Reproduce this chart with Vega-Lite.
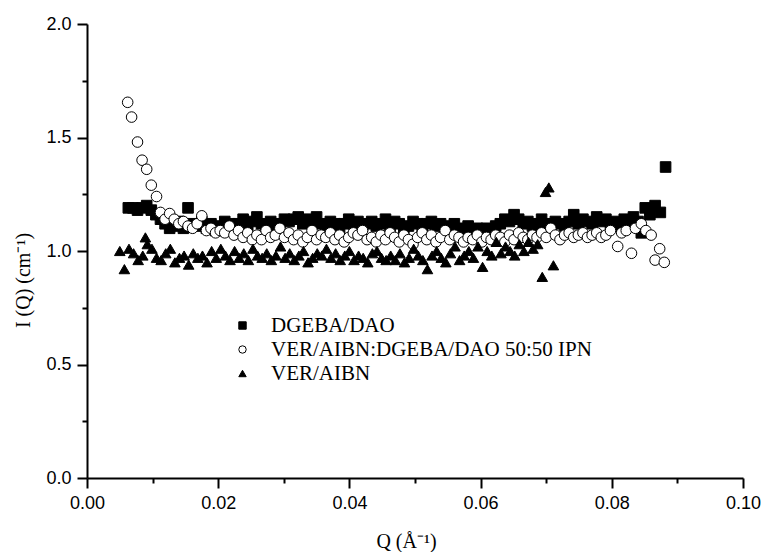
{
  "$schema": "https://vega.github.io/schema/vega-lite/v6.json",
  "width": 656,
  "height": 454,
  "autosize": "none",
  "padding": {"left": 87, "top": 24, "right": 21, "bottom": 74},
  "background": "white",
  "config": {
    "font": "Liberation Serif",
    "view": {"stroke": null},
    "axis": {
      "domainColor": "black", "domainWidth": 2, "tickColor": "black", "tickWidth": 2,
      "labelColor": "black", "labelFont": "Liberation Sans", "labelFontSize": 18,
      "titleFont": "Liberation Serif", "titleFontSize": 20, "titleFontWeight": "normal", "titleColor": "black",
      "grid": false
    },
    "legend": {
      "labelFont": "Liberation Serif", "labelFontSize": 21, "labelColor": "black", "labelLimit": 0,
      "symbolSize": 55, "symbolStrokeWidth": 1,
      "rowPadding": 2, "labelOffset": 18, "padding": 0
    },
    "style": {"guide-label": {"font": "Liberation Serif"}}
  },
  "data": {
    "values": [
      {"Q":0.0063,"I":1.19,"series":"DGEBA/DAO"},{"Q":0.0070,"I":1.19,"series":"DGEBA/DAO"},{"Q":0.0077,"I":1.18,"series":"DGEBA/DAO"},{"Q":0.0084,"I":1.19,"series":"DGEBA/DAO"},{"Q":0.0091,"I":1.20,"series":"DGEBA/DAO"},{"Q":0.0098,"I":1.18,"series":"DGEBA/DAO"},{"Q":0.0105,"I":1.16,"series":"DGEBA/DAO"},{"Q":0.0112,"I":1.14,"series":"DGEBA/DAO"},{"Q":0.0119,"I":1.12,"series":"DGEBA/DAO"},{"Q":0.0126,"I":1.10,"series":"DGEBA/DAO"},{"Q":0.0133,"I":1.11,"series":"DGEBA/DAO"},{"Q":0.0140,"I":1.13,"series":"DGEBA/DAO"},{"Q":0.0147,"I":1.10,"series":"DGEBA/DAO"},{"Q":0.0154,"I":1.19,"series":"DGEBA/DAO"},{"Q":0.0161,"I":1.12,"series":"DGEBA/DAO"},{"Q":0.0168,"I":1.11,"series":"DGEBA/DAO"},{"Q":0.0175,"I":1.13,"series":"DGEBA/DAO"},{"Q":0.0182,"I":1.10,"series":"DGEBA/DAO"},{"Q":0.0189,"I":1.12,"series":"DGEBA/DAO"},{"Q":0.0196,"I":1.09,"series":"DGEBA/DAO"},{"Q":0.0203,"I":1.11,"series":"DGEBA/DAO"},{"Q":0.0210,"I":1.13,"series":"DGEBA/DAO"},{"Q":0.0217,"I":1.12,"series":"DGEBA/DAO"},{"Q":0.0224,"I":1.10,"series":"DGEBA/DAO"},{"Q":0.0231,"I":1.12,"series":"DGEBA/DAO"},{"Q":0.0238,"I":1.14,"series":"DGEBA/DAO"},{"Q":0.0245,"I":1.11,"series":"DGEBA/DAO"},{"Q":0.0252,"I":1.13,"series":"DGEBA/DAO"},{"Q":0.0259,"I":1.15,"series":"DGEBA/DAO"},{"Q":0.0266,"I":1.12,"series":"DGEBA/DAO"},{"Q":0.0273,"I":1.10,"series":"DGEBA/DAO"},{"Q":0.0280,"I":1.13,"series":"DGEBA/DAO"},{"Q":0.0287,"I":1.11,"series":"DGEBA/DAO"},{"Q":0.0294,"I":1.12,"series":"DGEBA/DAO"},{"Q":0.0301,"I":1.14,"series":"DGEBA/DAO"},{"Q":0.0308,"I":1.13,"series":"DGEBA/DAO"},{"Q":0.0315,"I":1.14,"series":"DGEBA/DAO"},{"Q":0.0322,"I":1.15,"series":"DGEBA/DAO"},{"Q":0.0329,"I":1.12,"series":"DGEBA/DAO"},{"Q":0.0336,"I":1.14,"series":"DGEBA/DAO"},{"Q":0.0343,"I":1.13,"series":"DGEBA/DAO"},{"Q":0.0350,"I":1.15,"series":"DGEBA/DAO"},{"Q":0.0357,"I":1.12,"series":"DGEBA/DAO"},{"Q":0.0364,"I":1.11,"series":"DGEBA/DAO"},{"Q":0.0371,"I":1.13,"series":"DGEBA/DAO"},{"Q":0.0378,"I":1.12,"series":"DGEBA/DAO"},{"Q":0.0385,"I":1.10,"series":"DGEBA/DAO"},{"Q":0.0392,"I":1.12,"series":"DGEBA/DAO"},{"Q":0.0399,"I":1.14,"series":"DGEBA/DAO"},{"Q":0.0406,"I":1.12,"series":"DGEBA/DAO"},{"Q":0.0413,"I":1.13,"series":"DGEBA/DAO"},{"Q":0.0420,"I":1.11,"series":"DGEBA/DAO"},{"Q":0.0427,"I":1.12,"series":"DGEBA/DAO"},{"Q":0.0434,"I":1.13,"series":"DGEBA/DAO"},{"Q":0.0441,"I":1.11,"series":"DGEBA/DAO"},{"Q":0.0448,"I":1.12,"series":"DGEBA/DAO"},{"Q":0.0455,"I":1.14,"series":"DGEBA/DAO"},{"Q":0.0462,"I":1.11,"series":"DGEBA/DAO"},{"Q":0.0469,"I":1.13,"series":"DGEBA/DAO"},{"Q":0.0476,"I":1.12,"series":"DGEBA/DAO"},{"Q":0.0483,"I":1.10,"series":"DGEBA/DAO"},{"Q":0.0490,"I":1.11,"series":"DGEBA/DAO"},{"Q":0.0497,"I":1.13,"series":"DGEBA/DAO"},{"Q":0.0504,"I":1.12,"series":"DGEBA/DAO"},{"Q":0.0511,"I":1.10,"series":"DGEBA/DAO"},{"Q":0.0518,"I":1.12,"series":"DGEBA/DAO"},{"Q":0.0525,"I":1.13,"series":"DGEBA/DAO"},{"Q":0.0532,"I":1.11,"series":"DGEBA/DAO"},{"Q":0.0539,"I":1.12,"series":"DGEBA/DAO"},{"Q":0.0546,"I":1.10,"series":"DGEBA/DAO"},{"Q":0.0553,"I":1.11,"series":"DGEBA/DAO"},{"Q":0.0560,"I":1.12,"series":"DGEBA/DAO"},{"Q":0.0567,"I":1.10,"series":"DGEBA/DAO"},{"Q":0.0574,"I":1.09,"series":"DGEBA/DAO"},{"Q":0.0581,"I":1.11,"series":"DGEBA/DAO"},{"Q":0.0588,"I":1.08,"series":"DGEBA/DAO"},{"Q":0.0595,"I":1.10,"series":"DGEBA/DAO"},{"Q":0.0602,"I":1.08,"series":"DGEBA/DAO"},{"Q":0.0609,"I":1.10,"series":"DGEBA/DAO"},{"Q":0.0616,"I":1.09,"series":"DGEBA/DAO"},{"Q":0.0623,"I":1.11,"series":"DGEBA/DAO"},{"Q":0.0630,"I":1.12,"series":"DGEBA/DAO"},{"Q":0.0637,"I":1.14,"series":"DGEBA/DAO"},{"Q":0.0644,"I":1.13,"series":"DGEBA/DAO"},{"Q":0.0651,"I":1.16,"series":"DGEBA/DAO"},{"Q":0.0658,"I":1.14,"series":"DGEBA/DAO"},{"Q":0.0665,"I":1.12,"series":"DGEBA/DAO"},{"Q":0.0672,"I":1.13,"series":"DGEBA/DAO"},{"Q":0.0679,"I":1.11,"series":"DGEBA/DAO"},{"Q":0.0686,"I":1.12,"series":"DGEBA/DAO"},{"Q":0.0693,"I":1.14,"series":"DGEBA/DAO"},{"Q":0.0700,"I":1.12,"series":"DGEBA/DAO"},{"Q":0.0707,"I":1.10,"series":"DGEBA/DAO"},{"Q":0.0714,"I":1.13,"series":"DGEBA/DAO"},{"Q":0.0721,"I":1.12,"series":"DGEBA/DAO"},{"Q":0.0728,"I":1.11,"series":"DGEBA/DAO"},{"Q":0.0735,"I":1.13,"series":"DGEBA/DAO"},{"Q":0.0742,"I":1.16,"series":"DGEBA/DAO"},{"Q":0.0749,"I":1.12,"series":"DGEBA/DAO"},{"Q":0.0756,"I":1.14,"series":"DGEBA/DAO"},{"Q":0.0763,"I":1.13,"series":"DGEBA/DAO"},{"Q":0.0770,"I":1.12,"series":"DGEBA/DAO"},{"Q":0.0777,"I":1.15,"series":"DGEBA/DAO"},{"Q":0.0784,"I":1.13,"series":"DGEBA/DAO"},{"Q":0.0791,"I":1.14,"series":"DGEBA/DAO"},{"Q":0.0798,"I":1.12,"series":"DGEBA/DAO"},{"Q":0.0805,"I":1.13,"series":"DGEBA/DAO"},{"Q":0.0812,"I":1.11,"series":"DGEBA/DAO"},{"Q":0.0819,"I":1.14,"series":"DGEBA/DAO"},{"Q":0.0826,"I":1.12,"series":"DGEBA/DAO"},{"Q":0.0833,"I":1.15,"series":"DGEBA/DAO"},{"Q":0.0840,"I":1.13,"series":"DGEBA/DAO"},{"Q":0.0845,"I":1.08,"series":"DGEBA/DAO"},{"Q":0.0851,"I":1.19,"series":"DGEBA/DAO"},{"Q":0.0858,"I":1.16,"series":"DGEBA/DAO"},{"Q":0.0866,"I":1.20,"series":"DGEBA/DAO"},{"Q":0.0874,"I":1.17,"series":"DGEBA/DAO"},{"Q":0.0882,"I":1.37,"series":"DGEBA/DAO"},

      {"Q":0.0062,"I":1.655,"series":"VER/AIBN:DGEBA/DAO 50:50 IPN"},{"Q":0.0068,"I":1.59,"series":"VER/AIBN:DGEBA/DAO 50:50 IPN"},{"Q":0.0077,"I":1.48,"series":"VER/AIBN:DGEBA/DAO 50:50 IPN"},{"Q":0.0084,"I":1.40,"series":"VER/AIBN:DGEBA/DAO 50:50 IPN"},{"Q":0.0091,"I":1.36,"series":"VER/AIBN:DGEBA/DAO 50:50 IPN"},{"Q":0.0098,"I":1.29,"series":"VER/AIBN:DGEBA/DAO 50:50 IPN"},{"Q":0.0106,"I":1.24,"series":"VER/AIBN:DGEBA/DAO 50:50 IPN"},{"Q":0.0112,"I":1.17,"series":"VER/AIBN:DGEBA/DAO 50:50 IPN"},{"Q":0.0119,"I":1.14,"series":"VER/AIBN:DGEBA/DAO 50:50 IPN"},{"Q":0.0126,"I":1.165,"series":"VER/AIBN:DGEBA/DAO 50:50 IPN"},{"Q":0.0133,"I":1.14,"series":"VER/AIBN:DGEBA/DAO 50:50 IPN"},{"Q":0.0140,"I":1.12,"series":"VER/AIBN:DGEBA/DAO 50:50 IPN"},{"Q":0.0147,"I":1.13,"series":"VER/AIBN:DGEBA/DAO 50:50 IPN"},{"Q":0.0154,"I":1.11,"series":"VER/AIBN:DGEBA/DAO 50:50 IPN"},{"Q":0.0161,"I":1.10,"series":"VER/AIBN:DGEBA/DAO 50:50 IPN"},{"Q":0.0168,"I":1.12,"series":"VER/AIBN:DGEBA/DAO 50:50 IPN"},{"Q":0.0175,"I":1.155,"series":"VER/AIBN:DGEBA/DAO 50:50 IPN"},{"Q":0.0182,"I":1.09,"series":"VER/AIBN:DGEBA/DAO 50:50 IPN"},{"Q":0.0189,"I":1.10,"series":"VER/AIBN:DGEBA/DAO 50:50 IPN"},{"Q":0.0196,"I":1.08,"series":"VER/AIBN:DGEBA/DAO 50:50 IPN"},{"Q":0.0203,"I":1.09,"series":"VER/AIBN:DGEBA/DAO 50:50 IPN"},{"Q":0.0210,"I":1.08,"series":"VER/AIBN:DGEBA/DAO 50:50 IPN"},{"Q":0.0217,"I":1.11,"series":"VER/AIBN:DGEBA/DAO 50:50 IPN"},{"Q":0.0224,"I":1.07,"series":"VER/AIBN:DGEBA/DAO 50:50 IPN"},{"Q":0.0231,"I":1.09,"series":"VER/AIBN:DGEBA/DAO 50:50 IPN"},{"Q":0.0238,"I":1.06,"series":"VER/AIBN:DGEBA/DAO 50:50 IPN"},{"Q":0.0245,"I":1.08,"series":"VER/AIBN:DGEBA/DAO 50:50 IPN"},{"Q":0.0252,"I":1.05,"series":"VER/AIBN:DGEBA/DAO 50:50 IPN"},{"Q":0.0259,"I":1.07,"series":"VER/AIBN:DGEBA/DAO 50:50 IPN"},{"Q":0.0266,"I":1.05,"series":"VER/AIBN:DGEBA/DAO 50:50 IPN"},{"Q":0.0273,"I":1.09,"series":"VER/AIBN:DGEBA/DAO 50:50 IPN"},{"Q":0.0280,"I":1.06,"series":"VER/AIBN:DGEBA/DAO 50:50 IPN"},{"Q":0.0287,"I":1.07,"series":"VER/AIBN:DGEBA/DAO 50:50 IPN"},{"Q":0.0294,"I":1.10,"series":"VER/AIBN:DGEBA/DAO 50:50 IPN"},{"Q":0.0301,"I":1.06,"series":"VER/AIBN:DGEBA/DAO 50:50 IPN"},{"Q":0.0308,"I":1.08,"series":"VER/AIBN:DGEBA/DAO 50:50 IPN"},{"Q":0.0315,"I":1.05,"series":"VER/AIBN:DGEBA/DAO 50:50 IPN"},{"Q":0.0322,"I":1.07,"series":"VER/AIBN:DGEBA/DAO 50:50 IPN"},{"Q":0.0329,"I":1.04,"series":"VER/AIBN:DGEBA/DAO 50:50 IPN"},{"Q":0.0336,"I":1.06,"series":"VER/AIBN:DGEBA/DAO 50:50 IPN"},{"Q":0.0343,"I":1.09,"series":"VER/AIBN:DGEBA/DAO 50:50 IPN"},{"Q":0.0350,"I":1.05,"series":"VER/AIBN:DGEBA/DAO 50:50 IPN"},{"Q":0.0357,"I":1.07,"series":"VER/AIBN:DGEBA/DAO 50:50 IPN"},{"Q":0.0364,"I":1.06,"series":"VER/AIBN:DGEBA/DAO 50:50 IPN"},{"Q":0.0371,"I":1.08,"series":"VER/AIBN:DGEBA/DAO 50:50 IPN"},{"Q":0.0378,"I":1.05,"series":"VER/AIBN:DGEBA/DAO 50:50 IPN"},{"Q":0.0385,"I":1.07,"series":"VER/AIBN:DGEBA/DAO 50:50 IPN"},{"Q":0.0392,"I":1.04,"series":"VER/AIBN:DGEBA/DAO 50:50 IPN"},{"Q":0.0399,"I":1.06,"series":"VER/AIBN:DGEBA/DAO 50:50 IPN"},{"Q":0.0406,"I":1.08,"series":"VER/AIBN:DGEBA/DAO 50:50 IPN"},{"Q":0.0413,"I":1.07,"series":"VER/AIBN:DGEBA/DAO 50:50 IPN"},{"Q":0.0420,"I":1.09,"series":"VER/AIBN:DGEBA/DAO 50:50 IPN"},{"Q":0.0427,"I":1.05,"series":"VER/AIBN:DGEBA/DAO 50:50 IPN"},{"Q":0.0434,"I":1.06,"series":"VER/AIBN:DGEBA/DAO 50:50 IPN"},{"Q":0.0441,"I":1.04,"series":"VER/AIBN:DGEBA/DAO 50:50 IPN"},{"Q":0.0448,"I":1.07,"series":"VER/AIBN:DGEBA/DAO 50:50 IPN"},{"Q":0.0455,"I":1.05,"series":"VER/AIBN:DGEBA/DAO 50:50 IPN"},{"Q":0.0462,"I":1.08,"series":"VER/AIBN:DGEBA/DAO 50:50 IPN"},{"Q":0.0469,"I":1.06,"series":"VER/AIBN:DGEBA/DAO 50:50 IPN"},{"Q":0.0476,"I":1.04,"series":"VER/AIBN:DGEBA/DAO 50:50 IPN"},{"Q":0.0483,"I":1.07,"series":"VER/AIBN:DGEBA/DAO 50:50 IPN"},{"Q":0.0490,"I":1.05,"series":"VER/AIBN:DGEBA/DAO 50:50 IPN"},{"Q":0.0497,"I":1.03,"series":"VER/AIBN:DGEBA/DAO 50:50 IPN"},{"Q":0.0504,"I":1.06,"series":"VER/AIBN:DGEBA/DAO 50:50 IPN"},{"Q":0.0511,"I":1.08,"series":"VER/AIBN:DGEBA/DAO 50:50 IPN"},{"Q":0.0518,"I":1.05,"series":"VER/AIBN:DGEBA/DAO 50:50 IPN"},{"Q":0.0525,"I":1.07,"series":"VER/AIBN:DGEBA/DAO 50:50 IPN"},{"Q":0.0532,"I":1.04,"series":"VER/AIBN:DGEBA/DAO 50:50 IPN"},{"Q":0.0539,"I":1.06,"series":"VER/AIBN:DGEBA/DAO 50:50 IPN"},{"Q":0.0546,"I":1.09,"series":"VER/AIBN:DGEBA/DAO 50:50 IPN"},{"Q":0.0553,"I":1.05,"series":"VER/AIBN:DGEBA/DAO 50:50 IPN"},{"Q":0.0560,"I":1.07,"series":"VER/AIBN:DGEBA/DAO 50:50 IPN"},{"Q":0.0567,"I":1.06,"series":"VER/AIBN:DGEBA/DAO 50:50 IPN"},{"Q":0.0574,"I":1.04,"series":"VER/AIBN:DGEBA/DAO 50:50 IPN"},{"Q":0.0581,"I":1.06,"series":"VER/AIBN:DGEBA/DAO 50:50 IPN"},{"Q":0.0588,"I":1.05,"series":"VER/AIBN:DGEBA/DAO 50:50 IPN"},{"Q":0.0595,"I":1.07,"series":"VER/AIBN:DGEBA/DAO 50:50 IPN"},{"Q":0.0602,"I":1.04,"series":"VER/AIBN:DGEBA/DAO 50:50 IPN"},{"Q":0.0609,"I":1.06,"series":"VER/AIBN:DGEBA/DAO 50:50 IPN"},{"Q":0.0616,"I":1.05,"series":"VER/AIBN:DGEBA/DAO 50:50 IPN"},{"Q":0.0623,"I":1.07,"series":"VER/AIBN:DGEBA/DAO 50:50 IPN"},{"Q":0.0630,"I":1.06,"series":"VER/AIBN:DGEBA/DAO 50:50 IPN"},{"Q":0.0637,"I":1.04,"series":"VER/AIBN:DGEBA/DAO 50:50 IPN"},{"Q":0.0644,"I":1.07,"series":"VER/AIBN:DGEBA/DAO 50:50 IPN"},{"Q":0.0651,"I":1.05,"series":"VER/AIBN:DGEBA/DAO 50:50 IPN"},{"Q":0.0658,"I":1.08,"series":"VER/AIBN:DGEBA/DAO 50:50 IPN"},{"Q":0.0665,"I":1.06,"series":"VER/AIBN:DGEBA/DAO 50:50 IPN"},{"Q":0.0672,"I":1.05,"series":"VER/AIBN:DGEBA/DAO 50:50 IPN"},{"Q":0.0679,"I":1.07,"series":"VER/AIBN:DGEBA/DAO 50:50 IPN"},{"Q":0.0686,"I":1.06,"series":"VER/AIBN:DGEBA/DAO 50:50 IPN"},{"Q":0.0693,"I":1.08,"series":"VER/AIBN:DGEBA/DAO 50:50 IPN"},{"Q":0.0700,"I":1.06,"series":"VER/AIBN:DGEBA/DAO 50:50 IPN"},{"Q":0.0707,"I":1.10,"series":"VER/AIBN:DGEBA/DAO 50:50 IPN"},{"Q":0.0714,"I":1.07,"series":"VER/AIBN:DGEBA/DAO 50:50 IPN"},{"Q":0.0721,"I":1.05,"series":"VER/AIBN:DGEBA/DAO 50:50 IPN"},{"Q":0.0728,"I":1.07,"series":"VER/AIBN:DGEBA/DAO 50:50 IPN"},{"Q":0.0735,"I":1.08,"series":"VER/AIBN:DGEBA/DAO 50:50 IPN"},{"Q":0.0742,"I":1.06,"series":"VER/AIBN:DGEBA/DAO 50:50 IPN"},{"Q":0.0749,"I":1.07,"series":"VER/AIBN:DGEBA/DAO 50:50 IPN"},{"Q":0.0756,"I":1.08,"series":"VER/AIBN:DGEBA/DAO 50:50 IPN"},{"Q":0.0763,"I":1.06,"series":"VER/AIBN:DGEBA/DAO 50:50 IPN"},{"Q":0.0770,"I":1.07,"series":"VER/AIBN:DGEBA/DAO 50:50 IPN"},{"Q":0.0777,"I":1.08,"series":"VER/AIBN:DGEBA/DAO 50:50 IPN"},{"Q":0.0784,"I":1.06,"series":"VER/AIBN:DGEBA/DAO 50:50 IPN"},{"Q":0.0791,"I":1.07,"series":"VER/AIBN:DGEBA/DAO 50:50 IPN"},{"Q":0.0798,"I":1.09,"series":"VER/AIBN:DGEBA/DAO 50:50 IPN"},{"Q":0.0809,"I":1.02,"series":"VER/AIBN:DGEBA/DAO 50:50 IPN"},{"Q":0.0815,"I":1.08,"series":"VER/AIBN:DGEBA/DAO 50:50 IPN"},{"Q":0.0822,"I":1.09,"series":"VER/AIBN:DGEBA/DAO 50:50 IPN"},{"Q":0.0830,"I":0.99,"series":"VER/AIBN:DGEBA/DAO 50:50 IPN"},{"Q":0.0836,"I":1.10,"series":"VER/AIBN:DGEBA/DAO 50:50 IPN"},{"Q":0.0845,"I":1.12,"series":"VER/AIBN:DGEBA/DAO 50:50 IPN"},{"Q":0.0852,"I":1.09,"series":"VER/AIBN:DGEBA/DAO 50:50 IPN"},{"Q":0.0860,"I":1.07,"series":"VER/AIBN:DGEBA/DAO 50:50 IPN"},{"Q":0.0866,"I":0.96,"series":"VER/AIBN:DGEBA/DAO 50:50 IPN"},{"Q":0.0873,"I":1.01,"series":"VER/AIBN:DGEBA/DAO 50:50 IPN"},{"Q":0.0880,"I":0.95,"series":"VER/AIBN:DGEBA/DAO 50:50 IPN"},

      {"Q":0.0050,"I":1.00,"series":"VER/AIBN"},{"Q":0.0057,"I":0.92,"series":"VER/AIBN"},{"Q":0.0064,"I":1.01,"series":"VER/AIBN"},{"Q":0.0071,"I":0.99,"series":"VER/AIBN"},{"Q":0.0078,"I":0.96,"series":"VER/AIBN"},{"Q":0.0085,"I":0.98,"series":"VER/AIBN"},{"Q":0.0089,"I":1.06,"series":"VER/AIBN"},{"Q":0.0092,"I":1.03,"series":"VER/AIBN"},{"Q":0.0099,"I":1.01,"series":"VER/AIBN"},{"Q":0.0106,"I":0.97,"series":"VER/AIBN"},{"Q":0.0113,"I":0.96,"series":"VER/AIBN"},{"Q":0.0120,"I":0.99,"series":"VER/AIBN"},{"Q":0.0127,"I":1.01,"series":"VER/AIBN"},{"Q":0.0134,"I":0.95,"series":"VER/AIBN"},{"Q":0.0141,"I":0.97,"series":"VER/AIBN"},{"Q":0.0148,"I":0.98,"series":"VER/AIBN"},{"Q":0.0155,"I":0.94,"series":"VER/AIBN"},{"Q":0.0162,"I":0.99,"series":"VER/AIBN"},{"Q":0.0169,"I":0.97,"series":"VER/AIBN"},{"Q":0.0176,"I":0.98,"series":"VER/AIBN"},{"Q":0.0183,"I":0.95,"series":"VER/AIBN"},{"Q":0.0190,"I":1.00,"series":"VER/AIBN"},{"Q":0.0197,"I":0.97,"series":"VER/AIBN"},{"Q":0.0204,"I":1.01,"series":"VER/AIBN"},{"Q":0.0211,"I":0.98,"series":"VER/AIBN"},{"Q":0.0218,"I":0.96,"series":"VER/AIBN"},{"Q":0.0225,"I":1.00,"series":"VER/AIBN"},{"Q":0.0232,"I":0.97,"series":"VER/AIBN"},{"Q":0.0239,"I":0.99,"series":"VER/AIBN"},{"Q":0.0246,"I":0.96,"series":"VER/AIBN"},{"Q":0.0253,"I":1.01,"series":"VER/AIBN"},{"Q":0.0260,"I":0.98,"series":"VER/AIBN"},{"Q":0.0267,"I":0.97,"series":"VER/AIBN"},{"Q":0.0274,"I":0.99,"series":"VER/AIBN"},{"Q":0.0281,"I":0.96,"series":"VER/AIBN"},{"Q":0.0288,"I":0.98,"series":"VER/AIBN"},{"Q":0.0295,"I":1.02,"series":"VER/AIBN"},{"Q":0.0302,"I":0.97,"series":"VER/AIBN"},{"Q":0.0309,"I":0.99,"series":"VER/AIBN"},{"Q":0.0316,"I":0.96,"series":"VER/AIBN"},{"Q":0.0323,"I":0.98,"series":"VER/AIBN"},{"Q":0.0330,"I":1.00,"series":"VER/AIBN"},{"Q":0.0337,"I":0.95,"series":"VER/AIBN"},{"Q":0.0344,"I":0.97,"series":"VER/AIBN"},{"Q":0.0351,"I":0.99,"series":"VER/AIBN"},{"Q":0.0358,"I":0.98,"series":"VER/AIBN"},{"Q":0.0365,"I":1.01,"series":"VER/AIBN"},{"Q":0.0372,"I":0.97,"series":"VER/AIBN"},{"Q":0.0379,"I":0.99,"series":"VER/AIBN"},{"Q":0.0386,"I":0.96,"series":"VER/AIBN"},{"Q":0.0393,"I":0.98,"series":"VER/AIBN"},{"Q":0.0400,"I":1.00,"series":"VER/AIBN"},{"Q":0.0407,"I":0.96,"series":"VER/AIBN"},{"Q":0.0414,"I":0.98,"series":"VER/AIBN"},{"Q":0.0421,"I":0.97,"series":"VER/AIBN"},{"Q":0.0428,"I":0.95,"series":"VER/AIBN"},{"Q":0.0435,"I":0.99,"series":"VER/AIBN"},{"Q":0.0442,"I":1.00,"series":"VER/AIBN"},{"Q":0.0449,"I":0.97,"series":"VER/AIBN"},{"Q":0.0456,"I":0.96,"series":"VER/AIBN"},{"Q":0.0463,"I":0.98,"series":"VER/AIBN"},{"Q":0.0470,"I":0.96,"series":"VER/AIBN"},{"Q":0.0477,"I":0.99,"series":"VER/AIBN"},{"Q":0.0484,"I":0.95,"series":"VER/AIBN"},{"Q":0.0491,"I":0.97,"series":"VER/AIBN"},{"Q":0.0498,"I":1.01,"series":"VER/AIBN"},{"Q":0.0505,"I":0.98,"series":"VER/AIBN"},{"Q":0.0512,"I":0.96,"series":"VER/AIBN"},{"Q":0.0519,"I":0.92,"series":"VER/AIBN"},{"Q":0.0526,"I":0.98,"series":"VER/AIBN"},{"Q":0.0533,"I":1.00,"series":"VER/AIBN"},{"Q":0.0540,"I":0.97,"series":"VER/AIBN"},{"Q":0.0547,"I":0.95,"series":"VER/AIBN"},{"Q":0.0554,"I":0.99,"series":"VER/AIBN"},{"Q":0.0561,"I":1.02,"series":"VER/AIBN"},{"Q":0.0568,"I":0.96,"series":"VER/AIBN"},{"Q":0.0575,"I":0.98,"series":"VER/AIBN"},{"Q":0.0582,"I":1.00,"series":"VER/AIBN"},{"Q":0.0589,"I":0.97,"series":"VER/AIBN"},{"Q":0.0596,"I":1.02,"series":"VER/AIBN"},{"Q":0.0603,"I":0.93,"series":"VER/AIBN"},{"Q":0.0610,"I":1.00,"series":"VER/AIBN"},{"Q":0.0617,"I":0.98,"series":"VER/AIBN"},{"Q":0.0624,"I":1.04,"series":"VER/AIBN"},{"Q":0.0631,"I":0.99,"series":"VER/AIBN"},{"Q":0.0638,"I":1.02,"series":"VER/AIBN"},{"Q":0.0645,"I":1.00,"series":"VER/AIBN"},{"Q":0.0652,"I":0.98,"series":"VER/AIBN"},{"Q":0.0659,"I":1.03,"series":"VER/AIBN"},{"Q":0.0666,"I":1.00,"series":"VER/AIBN"},{"Q":0.0673,"I":1.04,"series":"VER/AIBN"},{"Q":0.0680,"I":1.01,"series":"VER/AIBN"},{"Q":0.0687,"I":1.03,"series":"VER/AIBN"},{"Q":0.0694,"I":0.886,"series":"VER/AIBN"},{"Q":0.0699,"I":1.26,"series":"VER/AIBN"},{"Q":0.0704,"I":1.28,"series":"VER/AIBN"},{"Q":0.0711,"I":0.937,"series":"VER/AIBN"}
    ]
  },
  "mark": {"type": "point", "filled": true, "strokeWidth": 1, "opacity": 1, "size": 112},
  "encoding": {
    "x": {
      "field": "Q", "type": "quantitative",
      "scale": {"domain": [0, 0.1], "nice": false, "zero": false},
      "axis": {
        "title": "Q (Å⁻¹)",
        "values": [0, 0.01, 0.02, 0.03, 0.04, 0.05, 0.06, 0.07, 0.08, 0.09, 0.1],
        "labelExpr": "round(datum.value*100) % 2 == 0 ? format(datum.value, '.2f') : ''",
        "tickSize": {"condition": {"test": "round(datum.value*100) % 2 != 0", "value": 5}, "value": 10},
        "labelPadding": 6, "labelFlush": false, "labelOverlap": false,
        "titleX": 319, "titleY": 63, "titleBaseline": "middle", "titleAnchor": "middle", "titleAlign": "center"
      }
    },
    "y": {
      "field": "I", "type": "quantitative",
      "scale": {"domain": [0, 2], "nice": false},
      "axis": {
        "title": "I (Q)  (cm⁻¹)",
        "values": [0, 0.25, 0.5, 0.75, 1, 1.25, 1.5, 1.75, 2],
        "labelExpr": "round(datum.value*4) % 2 == 0 ? format(datum.value, '.1f') : ''",
        "tickSize": {"condition": {"test": "round(datum.value*4) % 2 != 0", "value": 5}, "value": 10},
        "labelPadding": 6, "labelFlush": false, "labelOverlap": false,
        "titleX": -64, "titleY": 256, "titleBaseline": "middle", "titleAlign": "center", "titleAngle": 270
      }
    },
    "stroke": {
      "field": "series", "type": "nominal",
      "scale": {"domain": ["DGEBA/DAO", "VER/AIBN:DGEBA/DAO 50:50 IPN", "VER/AIBN"], "range": ["black", "black", "black"]},
      "legend": {"title": null, "orient": "none", "legendX": 145, "legendY": 291, "labelFont": "Liberation Serif"}
    },
    "shape": {
      "field": "series", "type": "nominal",
      "scale": {"domain": ["DGEBA/DAO", "VER/AIBN:DGEBA/DAO 50:50 IPN", "VER/AIBN"], "range": ["square", "circle", "triangle-up"]},
      "legend": {"title": null, "orient": "none", "legendX": 145, "legendY": 291, "labelFont": "Liberation Serif"}
    },
    "fill": {
      "field": "series", "type": "nominal",
      "scale": {"domain": ["DGEBA/DAO", "VER/AIBN:DGEBA/DAO 50:50 IPN", "VER/AIBN"], "range": ["black", "white", "black"]},
      "legend": {"title": null, "orient": "none", "legendX": 145, "legendY": 291, "labelFont": "Liberation Serif"}
    }
  }
}
